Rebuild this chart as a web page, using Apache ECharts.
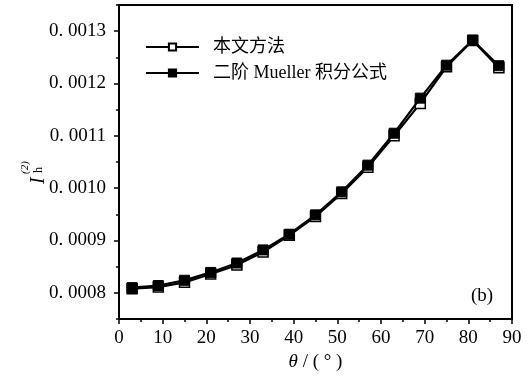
<!DOCTYPE html>
<html>
<head>
<meta charset="utf-8">
<script src="https://cdn.jsdelivr.net/npm/echarts@6/dist/echarts.min.js"></script>
<style>
  html, body { margin: 0; padding: 0; background: #fff; }
  #chart { width: 531px; height: 384px; }
</style>
</head>
<body>
<div id="chart"></div>
<script>
// Scattering angle (degrees)
const theta = [3, 9, 15, 21, 27, 33, 39, 45, 51, 57, 63, 69, 75, 81, 87];
// Second-order intensity, this method
const thisMethod = [0.000808, 0.000811, 0.000820, 0.000836, 0.000853, 0.000878, 0.000910, 0.000946,
                    0.000990, 0.001040, 0.001100, 0.001162, 0.001232, 0.001282, 0.001230];
// Second-order intensity, Mueller integral formula
const muellerFormula = [0.000810, 0.000814, 0.000824, 0.000839, 0.000857, 0.000882, 0.000912, 0.000949,
                        0.000993, 0.001044, 0.001105, 0.001172, 0.001235, 0.001283, 0.001234];
const seriesNames = ['本文方法', '二阶Mueller积分公式'];
const yTickValues = [0.0008, 0.0009, 0.0010, 0.0011, 0.0012, 0.0013];

const serif = 'Liberation Serif, DejaVu Serif, serif';
const mixed = 'Liberation Serif, Noto Sans CJK SC, serif';

const chart = echarts.init(document.getElementById('chart'), null, { renderer: 'canvas' });

const pairs = arr => theta.map((t, i) => [t, arr[i]]);

chart.setOption({
  animation: false,
  backgroundColor: '#fff',
  grid: {
    left: 119, right: 19, top: 5, bottom: 65,
    show: true, borderColor: '#000', borderWidth: 2, backgroundColor: 'transparent'
  },
  legend: {
    orient: 'vertical',
    left: 140, top: 33,
    itemWidth: 53, itemHeight: 9, itemGap: 8,
    textStyle: { fontFamily: mixed, fontSize: 18, color: '#000', padding: [0, 0, 0, 9] },
    // a little breathing room around the Latin word in the mixed-script label
    formatter: name => name.replace('Mueller', ' Mueller '),
    data: seriesNames
  },
  xAxis: {
    type: 'value', min: 0, max: 90, interval: 10,
    axisLine: { show: true, lineStyle: { color: '#000', width: 2 } },
    axisTick: { show: true, inside: false, length: 5, lineStyle: { color: '#000', width: 1.5 } },
    minorTick: { show: true, splitNumber: 2, length: 3, lineStyle: { color: '#000', width: 1.5 } },
    splitLine: { show: false },
    axisLabel: { margin: 10, fontFamily: serif, fontSize: 19, color: '#000', showMinLabel: true, showMaxLabel: true },
    name: '{i|θ}{n| / ( ° )}',
    nameLocation: 'middle', nameGap: 32,
    nameTextStyle: {
      rich: {
        i: { fontFamily: serif, fontStyle: 'italic', fontSize: 19, color: '#000' },
        n: { fontFamily: serif, fontSize: 19, color: '#000' }
      }
    }
  },
  yAxis: [
    {
      // minor ticks every 0.00005
      type: 'value', min: 0.00075, max: 0.00135, interval: 0.00005,
      axisLine: { show: true, lineStyle: { color: '#000', width: 2 } },
      axisTick: { show: true, inside: false, length: 3, lineStyle: { color: '#000', width: 1.5 } },
      axisLabel: { show: false },
      splitLine: { show: false }
    },
    {
      // labelled major ticks
      type: 'value', position: 'left', min: 0.00075, max: 0.00135,
      axisLine: { show: false },
      axisTick: { show: true, inside: false, length: 5, customValues: yTickValues,
                  lineStyle: { color: '#000', width: 1.5 } },
      axisLabel: {
        customValues: yTickValues, margin: 13,
        fontFamily: serif, fontSize: 19, color: '#000',
        formatter: v => v.toFixed(4).replace('.', '. ')
      },
      splitLine: { show: false }
    }
  ],
  graphic: [
    {
      type: 'group', x: 29, y: 184, rotation: Math.PI / 2,
      children: [
        { type: 'text', x: 0, y: 0, style: { text: 'I', fontFamily: serif, fontStyle: 'italic',
          fontSize: 20, fill: '#000', textAlign: 'left', textVerticalAlign: 'alphabetic' } },
        { type: 'text', x: 11, y: 4, style: { text: 'h', fontFamily: serif,
          fontSize: 12, fill: '#000', textAlign: 'left', textVerticalAlign: 'alphabetic' } },
        { type: 'text', x: 10, y: -9, style: { text: '(2)', fontFamily: serif, fontStyle: 'italic',
          fontSize: 11, fill: '#000', textAlign: 'left', textVerticalAlign: 'alphabetic' } }
      ]
    },
    {
      type: 'text', left: 471, top: 287,
      style: { text: '(b)', fontFamily: serif, fontSize: 19, fill: '#000' }
    }
  ],
  series: [
    {
      name: seriesNames[0], type: 'line', yAxisIndex: 0,
      data: pairs(thisMethod),
      symbol: 'rect', symbolSize: 10, showAllSymbol: true,
      lineStyle: { color: '#000', width: 2.2 },
      itemStyle: { color: '#fff', borderColor: '#000', borderWidth: 1.5 },
      z: 2
    },
    {
      name: seriesNames[1], type: 'line', yAxisIndex: 0,
      data: pairs(muellerFormula),
      symbol: 'rect', symbolSize: 10, showAllSymbol: true,
      lineStyle: { color: '#000', width: 2.2 },
      itemStyle: { color: '#000', borderColor: '#000', borderWidth: 1 },
      z: 3
    }
  ]
});
</script>
</body>
</html>
